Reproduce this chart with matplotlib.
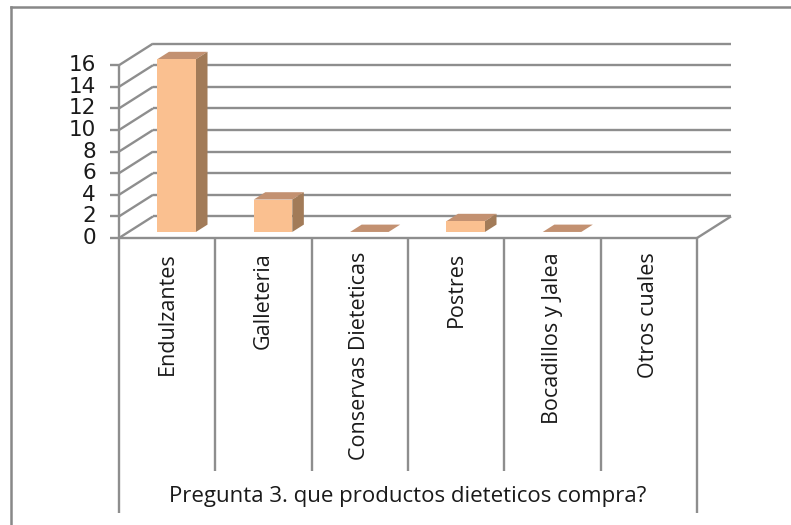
#!/usr/bin/env python3
"""
Pregunta 3 - que productos dieteticos compra?
Excel-style 3D column chart, redrawn with flat matplotlib polygons.
Saves: out.png
"""

import numpy as np
import matplotlib.pyplot as plt
from matplotlib.patches import Polygon
from matplotlib.lines import Line2D

OUT_PATH = "out.png"

categories = ["Endulzantes", "Galleteria", "Conservas Dieteticas",
              "Postres", "Bocadillos y Jalea", "Otros cuales"]
values = [16, 3, 0, 1, 0, np.nan]     # "Otros cuales" has no bar at all
y_ticks = [0, 2, 4, 6, 8, 10, 12, 14, 16]
title = "Pregunta 3. que productos dieteticos compra?"

# ── colours ────────────────────────────────────────────────────────────
FRONT_COLOR = "#FAC090"
SIDE_COLOR  = "#A27B58"
TOP_COLOR   = "#C39171"
GRID_COLOR  = "#8E8E8E"
TEXT_COLOR  = "#1A1A1A"

# ── pixel layout of the reference (791 x 525) ─────────────────────────
W, H = 791, 525
PX_LEFT, PX_RIGHT = 119, 697        # front floor edge, left / right
PX_ZERO = 238                       # y pixel of value 0 at the front
PX_PER_VAL = 10.8                   # pixels per value unit
PX_PER_CAT = (PX_RIGHT - PX_LEFT) / len(categories)

# depth vector of the 3D box (in data units)
DEPTH_X = 34 / PX_PER_CAT
DEPTH_Y = 2.0
BAR_F0, BAR_F1 = 0.28, 0.62         # bar front / back as fraction of depth
BAR_W = 0.40


def px_y(py):
    return (PX_ZERO - py) / PX_PER_VAL


def px_x(px):
    return (px - PX_LEFT) / PX_PER_CAT - 0.5


def line(ax, xs, ys, lw=1.7):
    ax.add_line(Line2D(xs, ys, color=GRID_COLOR, lw=lw,
                       solid_capstyle="butt", clip_on=False, zorder=1))


def draw_bar(ax, x, v):
    x0, x1 = x - BAR_W / 2, x + BAR_W / 2
    fx, fy = BAR_F0 * DEPTH_X, BAR_F0 * DEPTH_Y
    bx, by = BAR_F1 * DEPTH_X, BAR_F1 * DEPTH_Y
    top = [(x0 + fx, v + fy), (x1 + fx, v + fy),
           (x1 + bx, v + by), (x0 + bx, v + by)]
    ax.add_patch(Polygon(top, closed=True, fc=TOP_COLOR, ec="none", zorder=3))
    if v <= 0:
        return
    front = [(x0 + fx, fy), (x1 + fx, fy), (x1 + fx, v + fy), (x0 + fx, v + fy)]
    side = [(x1 + fx, fy), (x1 + bx, by), (x1 + bx, v + by), (x1 + fx, v + fy)]
    ax.add_patch(Polygon(side, closed=True, fc=SIDE_COLOR, ec="none", zorder=3))
    ax.add_patch(Polygon(front, closed=True, fc=FRONT_COLOR, ec="none", zorder=4))


def main():
    fig = plt.figure(figsize=(W / 100, H / 100), dpi=100, facecolor="white")
    ax = fig.add_axes([0, 0, 1, 1])
    ax.set_xlim(px_x(0), px_x(W))
    ax.set_ylim(px_y(H), px_y(0))
    ax.axis("off")

    n = len(categories)
    left, right = -0.5, n - 0.5
    vmax = y_ticks[-1]

    # ── walls: back gridlines + side wall diagonals ───────────────────
    for v in y_ticks:
        line(ax, [left + DEPTH_X, right + DEPTH_X], [v + DEPTH_Y, v + DEPTH_Y])
        line(ax, [left, left + DEPTH_X], [v, v + DEPTH_Y])
        line(ax, [left - 0.09, left], [v, v])           # tick marks
    # floor front edge and right side
    line(ax, [left, right], [0, 0])
    line(ax, [right, right + DEPTH_X], [0, DEPTH_Y])
    # vertical value axis
    line(ax, [left, left], [0, vmax])

    # ── category separators (long tick lines) ─────────────────────────
    for k in range(n + 1):
        bottom = px_y(513) if k in (0, n) else px_y(471)
        line(ax, [left + k, left + k], [0, bottom])

    # ── bars ──────────────────────────────────────────────────────────
    for i, v in enumerate(values):
        if np.isnan(v):
            continue
        draw_bar(ax, i, v)

    # ── labels ────────────────────────────────────────────────────────
    for v in y_ticks:
        ax.text(px_x(96), v, str(v), ha="right", va="center",
                fontsize=15.5, family="DejaVu Sans", color=TEXT_COLOR)

    for i, cat in enumerate(categories):
        ax.text(i, px_y(252), cat, rotation=90, ha="center", va="top",
                fontsize=15.5, family="Open Sans", color=TEXT_COLOR)

    ax.text((left + right) / 2, px_y(497), title, ha="center", va="center",
            fontsize=16, family="Open Sans", color=TEXT_COLOR)

    # ── outer chart border (extends past the cropped image) ───────────
    fig.add_artist(Line2D([11 / W, 11 / W], [0, 1 - 7 / H],
                          transform=fig.transFigure, color="#888888", lw=1.8))
    fig.add_artist(Line2D([11 / W, 1], [1 - 7 / H, 1 - 7 / H],
                          transform=fig.transFigure, color="#888888", lw=1.8))

    fig.savefig(OUT_PATH, dpi=100, facecolor="white")
    plt.close(fig)
    print(f"Saved: {OUT_PATH}")


if __name__ == "__main__":
    main()
